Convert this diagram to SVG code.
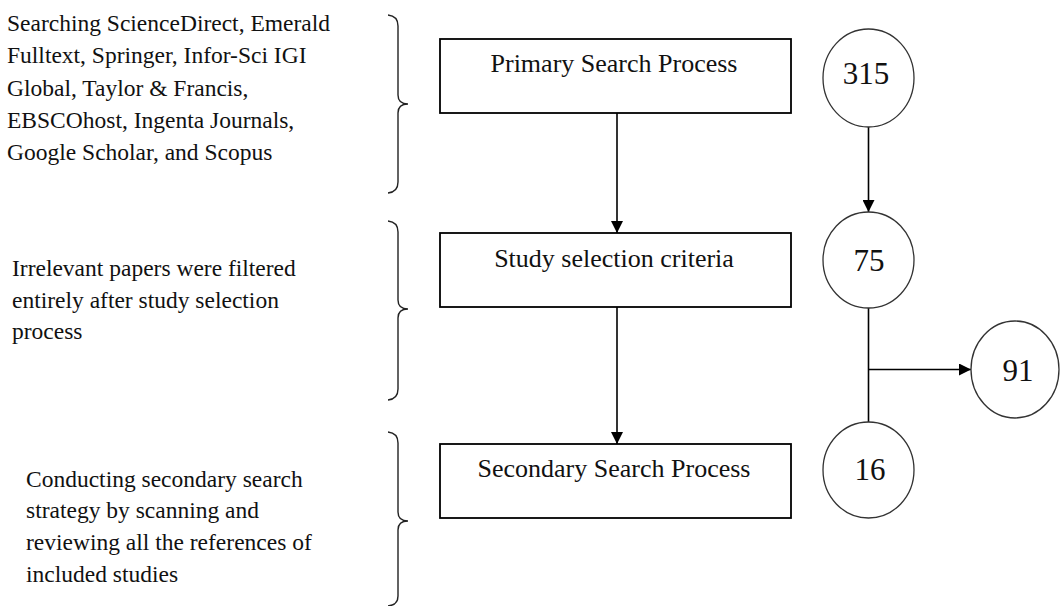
<svg xmlns="http://www.w3.org/2000/svg" width="1064" height="606" viewBox="0 0 1064 606">
<defs>
<marker id="ah" markerUnits="userSpaceOnUse" markerWidth="12" markerHeight="12" viewBox="0 0 12 12" refX="12" refY="6" orient="auto">
<path d="M0,0 L12,6 L0,12 Z" fill="#000"/>
</marker>
<style>
.t{font-family:"Liberation Serif","Times New Roman",serif;fill:#111;}
.side{font-size:23.5px;}
.box{font-size:26px;text-anchor:middle;}
.num{font-size:31px;text-anchor:middle;}
.r{fill:#fff;stroke:#000;stroke-width:1.8;}
.c{fill:#fff;stroke:#333;stroke-width:1.3;}
.br{fill:none;stroke:#222;stroke-width:1.4;}
.ln{fill:none;stroke:#000;stroke-width:1.6;}
</style>
</defs>
<rect width="1064" height="606" fill="#fff"/>

<g id="note1">
<text class="t side" x="7" y="31">Searching ScienceDirect, Emerald</text>
<text class="t side" x="7" y="63">Fulltext, Springer, Infor-Sci IGI</text>
<text class="t side" x="7" y="95.5">Global, Taylor &amp; Francis,</text>
<text class="t side" x="7" y="128">EBSCOhost, Ingenta Journals,</text>
<text class="t side" x="7" y="160">Google Scholar, and Scopus</text>
<path class="br" d="M388,15 Q398,16 398,26 L398,95 Q398,104 408,104 Q398,104 398,113 L398,182 Q398,192 388,193"/>
</g>

<g id="note2">
<text class="t side" x="12" y="276">Irrelevant papers were filtered</text>
<text class="t side" x="12" y="308">entirely after study selection</text>
<text class="t side" x="12" y="339">process</text>
<path class="br" d="M388,221 Q398,222 398,232 L398,300 Q398,309 408,309 Q398,309 398,318 L398,389 Q398,399 388,400"/>
</g>

<g id="note3">
<text class="t side" x="26" y="487">Conducting secondary search</text>
<text class="t side" x="26" y="518">strategy by scanning and</text>
<text class="t side" x="26" y="550">reviewing all the references of</text>
<text class="t side" x="26" y="582">included studies</text>
<path class="br" d="M388,432 Q398,433 398,443 L398,512 Q398,521 408,521 Q398,521 398,530 L398,596 Q398,605 388,606"/>
</g>

<g id="connectors">
<line class="ln" x1="617" y1="113" x2="617" y2="233" marker-end="url(#ah)"/>
<line class="ln" x1="617" y1="307" x2="617" y2="444" marker-end="url(#ah)"/>
<line class="ln" x1="868.5" y1="127" x2="868.5" y2="212" marker-end="url(#ah)"/>
<line class="ln" x1="868.5" y1="308" x2="868.5" y2="422"/>
<line class="ln" x1="868.5" y1="369.5" x2="971" y2="369.5" marker-end="url(#ah)"/>
</g>

<g id="primary">
<rect class="r" x="440" y="39" width="351" height="74"/>
<text class="t box" x="614" y="72">Primary Search Process</text>
</g>
<g id="selection">
<rect class="r" x="440" y="233" width="351" height="74"/>
<text class="t box" x="614" y="266.5">Study selection criteria</text>
</g>
<g id="secondary">
<rect class="r" x="440" y="444" width="351" height="74"/>
<text class="t box" x="614" y="477">Secondary Search Process</text>
</g>

<g id="n315">
<ellipse class="c" cx="868.5" cy="78" rx="45.5" ry="49"/>
<text class="t num" x="866" y="84">315</text>
</g>
<g id="n75">
<ellipse class="c" cx="868.5" cy="260" rx="45.5" ry="48"/>
<text class="t num" x="869" y="270.5">75</text>
</g>
<g id="n16">
<ellipse class="c" cx="868.5" cy="470" rx="45.5" ry="48"/>
<text class="t num" x="870" y="480">16</text>
</g>
<g id="n91">
<ellipse class="c" cx="1015" cy="369.5" rx="44" ry="48.5"/>
<text class="t num" x="1018" y="380.5">91</text>
</g>
</svg>
